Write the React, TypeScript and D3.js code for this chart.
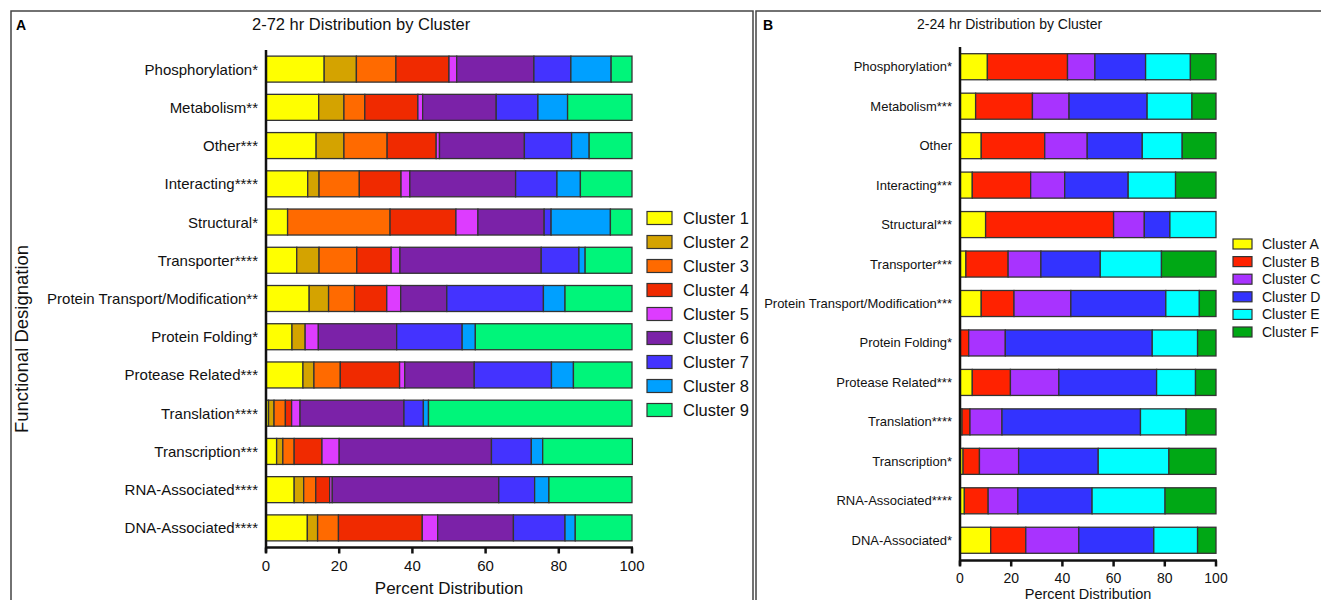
import React from 'react';
import * as d3 from 'd3';

// ---- panel A: 2-72 hr ----
const categoriesA = [
  'Phosphorylation*', 'Metabolism**', 'Other***', 'Interacting****', 'Structural*',
  'Transporter****', 'Protein Transport/Modification**', 'Protein Folding*',
  'Protease Related***', 'Translation****', 'Transcription***', 'RNA-Associated****',
  'DNA-Associated****',
];
const clustersA = ['Cluster 1', 'Cluster 2', 'Cluster 3', 'Cluster 4', 'Cluster 5', 'Cluster 6', 'Cluster 7', 'Cluster 8', 'Cluster 9'];
const colorsA = ['#ffff00', '#d4a300', '#ff6a00', '#f02a00', '#dd3cff', '#7b22a8', '#4433ff', '#00a0ff', '#00f57a'];

const cluster1 = [15.9, 14.4, 13.7, 11.4, 5.9, 8.4, 11.8, 7.1, 10.1, 0.7, 2.9, 7.7, 11.3];
const cluster2 = [8.8, 6.9, 7.6, 3.1, 0, 6.1, 5.3, 3.6, 3.0, 1.5, 1.7, 2.6, 2.8];
const cluster3 = [10.8, 5.7, 11.8, 11.0, 28.0, 10.3, 7.1, 0, 7.2, 3.1, 3.1, 3.3, 5.7];
const cluster4 = [14.5, 14.5, 13.4, 11.4, 18.0, 9.4, 8.8, 0, 16.2, 1.7, 7.6, 3.8, 22.9];
const cluster5 = [2.1, 1.3, 0.9, 2.4, 6.0, 2.4, 3.8, 3.6, 1.4, 2.3, 4.7, 0.7, 4.2];
const cluster6 = [21.1, 20.1, 23.2, 28.9, 18.1, 38.6, 12.6, 21.4, 19.0, 28.4, 41.6, 45.5, 20.7];
const cluster7 = [10.1, 11.4, 12.9, 11.3, 1.9, 10.3, 26.4, 17.9, 21.1, 5.3, 10.9, 9.8, 14.1];
const cluster8 = [11.0, 8.1, 4.8, 6.4, 16.2, 1.7, 5.9, 3.6, 6.0, 1.4, 3.1, 3.9, 2.8];
const cluster9 = [5.7, 17.6, 11.7, 14.1, 5.9, 12.8, 18.3, 42.8, 16.0, 55.6, 24.5, 22.7, 15.5];

// ---- panel B: 2-24 hr ----
const categoriesB = [
  'Phosphorylation*', 'Metabolism***', 'Other', 'Interacting***', 'Structural***',
  'Transporter***', 'Protein Transport/Modification***', 'Protein Folding*',
  'Protease Related***', 'Translation****', 'Transcription*', 'RNA-Associated****',
  'DNA-Associated*',
];
const clustersB = ['Cluster A', 'Cluster B', 'Cluster C', 'Cluster D', 'Cluster E', 'Cluster F'];
const colorsB = ['#ffff00', '#ff2200', '#a833ff', '#3333ff', '#00ffff', '#00a815'];

const clusterA = [10.7, 6.1, 8.3, 4.8, 10.0, 2.3, 8.3, 0, 4.8, 0.8, 1.2, 1.7, 12.0];
const clusterB = [31.3, 22.2, 24.8, 22.8, 50.0, 16.5, 12.8, 3.4, 14.9, 3.1, 6.4, 9.3, 13.7];
const clusterC = [10.7, 14.3, 16.6, 13.3, 12.0, 12.8, 22.2, 14.3, 18.9, 12.5, 15.3, 11.6, 20.7];
const clusterD = [19.8, 30.5, 21.5, 24.8, 10.0, 23.2, 37.1, 57.4, 38.2, 54.1, 31.1, 29.0, 29.3];
const clusterE = [17.5, 17.5, 15.6, 18.5, 18.0, 23.9, 13.1, 17.7, 15.2, 17.8, 27.6, 28.5, 17.1];
const clusterF = [10.0, 9.4, 13.2, 15.8, 0, 21.3, 6.5, 7.2, 8.0, 11.7, 18.4, 19.9, 7.2];

const seriesA = [cluster1, cluster2, cluster3, cluster4, cluster5, cluster6, cluster7, cluster8, cluster9];
const seriesB = [clusterA, clusterB, clusterC, clusterD, clusterE, clusterF];

const FONT = 'Liberation Sans, Arial, sans-serif';

function buildRows(categories, names, series) {
  return categories.map((c, i) => {
    const row = { cat: c };
    names.forEach((n, j) => { row[n] = series[j][i]; });
    return row;
  });
}

function Panel({ categories, names, series, colors, x0, x1, yTop, yBottom, pad, labelSize, tickSize, axisSize, axisDy, legend }) {
  const rows = buildRows(categories, names, series);
  const stacked = d3.stack().keys(names)(rows);
  const x = d3.scaleLinear().domain([0, 100]).range([x0, x1]);
  const y = d3.scaleBand().domain(categories).range([yTop, yBottom]).paddingInner(pad).paddingOuter(pad / 2);
  const axisY = yBottom + 0.5;
  return (
    <g>
      {stacked.map((s, j) => (
        <g key={names[j]} fill={colors[j]}>
          {s.map((d, i) => (d[1] - d[0] > 0 ? (
            <rect key={i} x={x(d[0])} y={y(categories[i])} width={x(d[1]) - x(d[0])} height={y.bandwidth()}
              stroke="#333" strokeWidth={1.3} />
          ) : null))}
        </g>
      ))}
      {categories.map(c => (
        <text key={c} x={x0 - 8} y={y(c) + y.bandwidth() / 2} textAnchor="end" dominantBaseline="central"
          fontSize={labelSize} fontFamily={FONT} fill="#111">{c}</text>
      ))}
      <line x1={x0} x2={x0} y1={yTop} y2={axisY + 5} stroke="#111" strokeWidth={2.5} />
      <line x1={x0 - 1} x2={x1 + 1} y1={axisY} y2={axisY} stroke="#111" strokeWidth={2.5} />
      {x.ticks(5).map(t => (
        <g key={t}>
          <line x1={x(t)} x2={x(t)} y1={axisY} y2={axisY + 6} stroke="#111" strokeWidth={2.5} />
          <text x={x(t)} y={axisY + 8 + tickSize * 0.5 + 2} textAnchor="middle" dominantBaseline="central"
            fontSize={tickSize} fontFamily={FONT} fill="#111">{t}</text>
        </g>
      ))}
      <text x={(x0 + x1) / 2} y={axisY + axisDy} textAnchor="middle" dominantBaseline="central"
        fontSize={axisSize} fontFamily={FONT} fill="#111">Percent Distribution</text>
      {names.map((n, j) => (
        <g key={n} transform={`translate(${legend.x},${legend.y + j * legend.step})`}>
          <rect x={0} y={-legend.h / 2} width={legend.w} height={legend.h} fill={colors[j]} stroke="#333" strokeWidth={1.2} />
          <text x={legend.w + legend.gap} y={0} dominantBaseline="central" fontSize={legend.size}
            fontFamily={FONT} fill="#111">{n}</text>
        </g>
      ))}
    </g>
  );
}

export default function App() {
  return (
    <svg width={1321} height={600} style={{ position: 'absolute', left: 0, top: 0, background: '#fff' }}>
      <rect x={0} y={0} width={1321} height={600} fill="#fff" />
      {/* frames */}
      <path d="M11,620 V11 H753 V620" fill="none" stroke="#444" strokeWidth={1.5} />
      <path d="M756,620 V11 H1330" fill="none" stroke="#444" strokeWidth={1.5} />
      <text x={16} y={25} dominantBaseline="central" fontSize={14} fontWeight="bold" fontFamily={FONT}>A</text>
      <text x={763} y={25} dominantBaseline="central" fontSize={14} fontWeight="bold" fontFamily={FONT}>B</text>
      <text x={252} y={24} dominantBaseline="central" fontSize={16.5} fontFamily={FONT} fill="#111">2-72 hr Distribution by Cluster</text>
      <text x={917} y={24} dominantBaseline="central" fontSize={14} fontFamily={FONT} fill="#111">2-24 hr Distribution by Cluster</text>
      <text transform="translate(21,339) rotate(-90)" textAnchor="middle" dominantBaseline="central"
        fontSize={18.5} fontFamily={FONT} fill="#111">Functional Designation</text>

      <Panel categories={categoriesA} names={clustersA} series={seriesA} colors={colorsA}
        x0={266} x1={632} yTop={50} yBottom={547} pad={0.32} labelSize={15} tickSize={15} axisSize={17} axisDy={41}
        legend={{ x: 647, y: 218, step: 24, w: 25, h: 13, gap: 11, size: 16.5 }} />
      <Panel categories={categoriesB} names={clustersB} series={seriesB} colors={colorsB}
        x0={960} x1={1216} yTop={47} yBottom={560} pad={0.34} labelSize={13} tickSize={14} axisSize={14.5} axisDy={33}
        legend={{ x: 1233, y: 244, step: 17.6, w: 19, h: 10, gap: 10, size: 14 }} />
    </svg>
  );
}
